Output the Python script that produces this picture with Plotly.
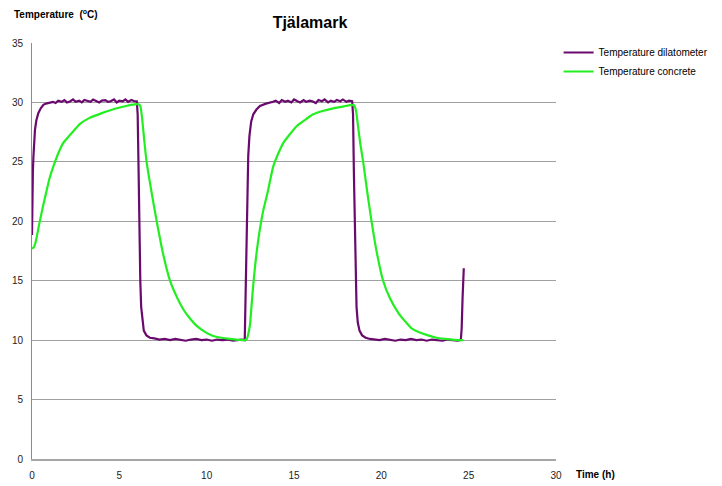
import plotly.graph_objects as go

# Temperature dilatometer (purple)
dil_t = [0.0, 0.02, 0.05, 0.08, 0.12, 0.17, 0.25, 0.36, 0.5, 0.65, 0.8, 1.0, 1.2,
         1.35, 1.5, 1.7, 1.85, 2.0, 2.2, 2.35, 2.5, 2.7, 2.85, 3.0, 3.2, 3.35, 3.5, 3.7, 3.85, 4.0, 4.2, 4.35, 4.5, 4.7,
         4.85, 5.0, 5.2, 5.35, 5.5, 5.7, 5.85, 6.0,
         6.05, 6.1, 6.15, 6.2, 6.25, 6.32, 6.4, 6.55, 6.75, 7.0,
         7.3, 7.6, 7.9, 8.2, 8.5, 8.8, 9.1, 9.4, 9.7, 10.0, 10.3, 10.6, 10.9, 11.2, 11.5, 11.8, 12.0, 12.18,
         12.22, 12.27, 12.32, 12.38, 12.45, 12.55, 12.67, 12.85, 13.05, 13.4, 13.8,
         13.95, 14.15, 14.3, 14.5, 14.65, 14.85, 15.0, 15.2, 15.35, 15.55, 15.7, 15.9, 16.05, 16.25, 16.4, 16.6, 16.75,
         16.95, 17.1, 17.3, 17.45, 17.65, 17.8, 18.0, 18.15, 18.33,
         18.38, 18.43, 18.48, 18.53, 18.58, 18.65, 18.75, 18.9, 19.1, 19.35,
         19.6, 19.9, 20.2, 20.5, 20.8, 21.1, 21.4, 21.7, 22.0, 22.3, 22.6, 22.9, 23.2, 23.5, 23.8, 24.1, 24.35, 24.55,
         24.6, 24.65, 24.72]
dil_T = [18.85, 22.6, 24.2, 25.4, 26.6, 27.7, 28.5, 29.1, 29.5, 29.8, 29.9, 30.0, 30.05,
         29.95, 30.15, 30.05, 30.2, 30.0, 30.1, 30.25, 30.05, 30.15, 30.0, 30.2, 30.1, 30.05, 30.25, 30.1, 30.0, 30.15, 30.2, 30.05, 30.1, 30.25,
         30.0, 30.15, 30.1, 30.25, 30.05, 30.2, 30.1, 30.1,
         29.0, 24.5, 19.0, 15.0, 12.8, 11.5, 10.8, 10.4, 10.2, 10.15,
         10.05, 10.1, 10.0, 10.1, 10.05, 9.95, 10.05, 10.1, 10.0, 10.05, 9.95, 10.05, 10.0, 10.05, 9.95, 10.0, 10.05, 10.0,
         13.0, 18.0, 23.0, 25.5, 27.2, 28.4, 29.0, 29.4, 29.7, 29.9, 30.05,
         30.15, 29.95, 30.2, 30.05, 30.15, 30.0, 30.25, 30.1, 30.0, 30.2, 30.05, 30.15, 30.1, 29.95, 30.2, 30.1, 30.25,
         30.0, 30.15, 30.05, 30.2, 30.1, 30.25, 30.05, 30.15, 30.1,
         29.0, 24.0, 19.0, 15.0, 12.8, 11.5, 10.8, 10.4, 10.2, 10.1,
         10.05, 10.0, 10.1, 10.05, 9.95, 10.05, 10.0, 10.1, 10.0, 10.05, 9.95, 10.05, 10.0, 9.95, 10.05, 10.0, 9.95, 10.0,
         11.0, 13.5, 16.05]

# Temperature concrete (green)
con_t = [0.0, 0.1, 0.2, 0.3, 0.46, 0.65, 0.84, 1.02, 1.22, 1.5, 1.79, 2.2, 2.75, 3.3, 4.0, 4.7, 5.4, 6.0, 6.1,
         6.2, 6.3, 6.42, 6.56, 6.85, 7.14, 7.5, 7.9, 8.3, 8.66, 9.0, 9.43, 9.9, 10.37, 10.85, 11.33, 11.8, 12.2,
         12.3, 12.38, 12.48, 12.57, 12.67, 12.8, 12.95, 13.1, 13.24, 13.5, 13.81, 14.1, 14.39, 14.75, 15.15, 15.6,
         16.1, 16.7, 17.25, 17.8, 18.3, 18.45, 18.55, 18.65, 18.8, 18.96, 19.2, 19.44, 19.75, 20.1, 20.5, 20.97,
         21.35, 21.73, 22.2, 22.68, 23.15, 23.64, 24.2, 24.69]
con_T = [17.7, 17.8, 18.2, 18.9, 20.1, 21.4, 22.6, 23.7, 24.6, 25.7, 26.6, 27.3, 28.2, 28.7, 29.1, 29.45, 29.7, 29.85, 29.85,
         29.7, 28.7, 26.9, 25.0, 22.4, 20.0, 17.3, 15.0, 13.6, 12.6, 11.9, 11.2, 10.7, 10.35, 10.2, 10.1, 10.03, 10.0,
         10.1, 10.5, 11.3, 12.9, 14.7, 16.6, 18.4, 19.8, 20.9, 22.5, 24.6, 25.7, 26.6, 27.3, 28.0, 28.5,
         29.0, 29.3, 29.5, 29.65, 29.8, 29.75, 29.3, 28.2, 26.5, 25.0, 22.4, 20.0, 17.3, 15.0, 13.5, 12.3,
         11.6, 11.0, 10.65, 10.4, 10.2, 10.1, 10.03, 10.0]

x_ticks = [0, 5, 10, 15, 20, 25, 30]
y_ticks = [0, 5, 10, 15, 20, 25, 30, 35]

FONT = "Liberation Sans"

fig = go.Figure()
fig.add_trace(go.Scatter(x=dil_t, y=dil_T, mode="lines", name="Temperature dilatometer",
                         line=dict(color="#6a0a6e", width=2.2)))
fig.add_trace(go.Scatter(x=con_t, y=con_T, mode="lines", name="Temperature concrete",
                         line=dict(color="#22ee22", width=2.2, shape="spline", smoothing=0.6)))

fig.update_layout(
    width=722, height=486,
    margin=dict(l=32, r=166, t=43, b=27, autoexpand=False),
    paper_bgcolor="white", plot_bgcolor="white",
    font=dict(family=FONT, size=10, color="#222222"),
    title=dict(text="<b>Tjälamark</b>", x=310/722, xanchor="center", y=1 - 22/486, yanchor="middle",
               font=dict(family=FONT, size=16, color="#000000")),
    legend=dict(x=1.005, y=1.012, xanchor="left", yanchor="top", font=dict(size=10, color="#000000"),
                bgcolor="rgba(0,0,0,0)", itemwidth=30, tracegroupgap=0),
    showlegend=True,
)
fig.update_xaxes(range=[0, 30], tickvals=x_ticks, ticktext=[str(v) for v in x_ticks],
                 showgrid=False, zeroline=False, showline=True, linecolor="#a6a6a6", linewidth=2,
                 ticks="", tickfont=dict(size=10, color="#222222"), ticklabelstandoff=6, automargin=False)
fig.update_yaxes(range=[0, 35], tickvals=y_ticks, ticktext=[str(v) for v in y_ticks],
                 showgrid=True, gridcolor="#a0a0a0", gridwidth=1, zeroline=False,
                 showline=True, linecolor="#8c8c8c", linewidth=1,
                 ticks="", tickfont=dict(size=10, color="#222222"), ticklabelstandoff=6, automargin=False)

fig.add_annotation(text="<b>Temperature  (<sup>o</sup>C)</b>", xref="paper", yref="paper",
                   x=-0.038, y=(459 - 14) / 416, xanchor="left", yanchor="middle", showarrow=False,
                   font=dict(size=10, color="#000000"))
fig.add_annotation(text="<b>Time (h)</b>", xref="paper", yref="paper",
                   x=(574 - 32) / 524, y=(459 - 474) / 416, xanchor="left", yanchor="middle", showarrow=False,
                   font=dict(size=10, color="#000000"))

fig.write_html("out.html", config={"displayModeBar": False},
               post_script="document.body.style.margin='0px';")
